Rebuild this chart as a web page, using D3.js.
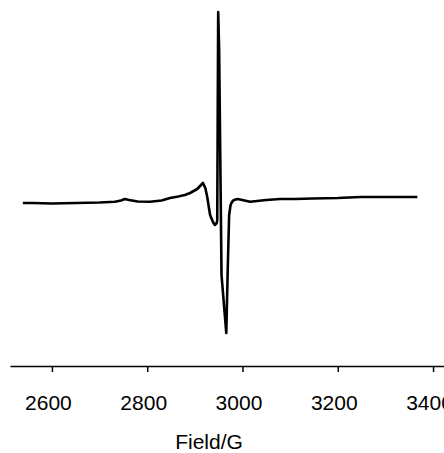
<!DOCTYPE html>
<html><head><meta charset="utf-8">
<script src="https://cdn.jsdelivr.net/npm/d3@7"></script>
<style>body{margin:0;background:#fff}svg{display:block}</style>
</head><body>
<script>
// EPR spectrum: field (G) vs derivative intensity (arbitrary units)
const field = [2539,2560,2600,2650,2700,2732,2745,2753,2762,2780,2806,2830,2848,2865,2879,2890,2905,2917,2922,2926,2932,2938,2942,2946,2947,2949,2951,2953,2956,2962,2966,2969,2972,2975,2978,2982,2990,3016,3050,3079,3110,3148,3200,3247,3310,3367];
const intensity = [-3,-3,-3.5,-3,-2.5,-1.7,-0.5,1,0,-1.5,-1.7,-0.5,2,3.5,5,7,11,17,12,3,-15,-22,-25,-23,-20,188,150,60,-75,-110,-133,-70,-15,-5,-2,0,1,-1.7,0,1,1,1.5,2,3,3,3];
const tickValues = [2600,2800,3000,3200,3400];
const xLabel = "Field/G";

const W = 444, H = 453;
const svg = d3.select("body").append("svg").attr("width", W).attr("height", H);
const x = d3.scaleLinear().domain([2512, 3423]).range([10, 444]);
const y = d3.scaleLinear().domain([-140, 200]).range([340, 0]);

svg.append("path")
  .datum(field.map((f, i) => [f, intensity[i]]))
  .attr("fill", "none").attr("stroke", "#000").attr("stroke-width", 2.6)
  .attr("stroke-linejoin", "round")
  .attr("d", d3.line().x(d => x(d[0])).y(d => y(d[1])));

const axis = svg.append("g").attr("transform", "translate(0,366)")
  .call(d3.axisBottom(x).tickValues(tickValues).tickFormat(d3.format("d"))
    .tickSize(6).tickSizeOuter(0).tickPadding(23));
axis.select(".domain").attr("stroke", "#000").attr("stroke-width", 1.5);
axis.selectAll(".tick line").attr("stroke", "#000").attr("stroke-width", 1.5);
axis.selectAll(".tick text").attr("fill", "#000").attr("dx", -4)
  .style("font-family", "'Liberation Sans', Arial, sans-serif").style("font-size", "21px");

svg.append("text").attr("x", 209).attr("y", 449).attr("text-anchor", "middle")
  .style("font-family", "'Liberation Sans', Arial, sans-serif").style("font-size", "21px")
  .text(xLabel);
</script>
</body></html>
